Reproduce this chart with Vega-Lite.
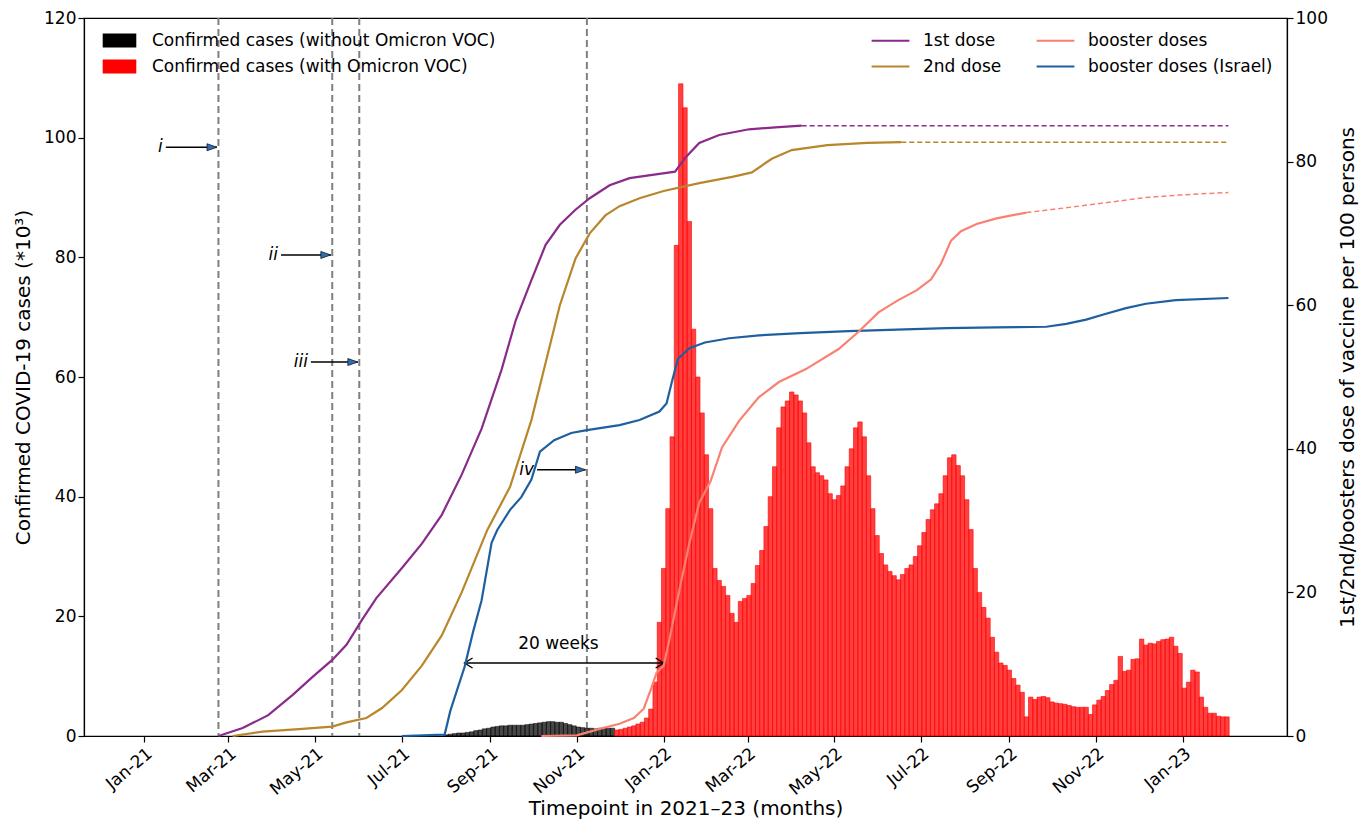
{
  "$schema": "https://vega.github.io/schema/vega-lite/v6.json",
  "width": 1203,
  "height": 718,
  "autosize": {"type": "none"},
  "padding": {"left": 84, "top": 18, "right": 82, "bottom": 86},
  "background": "white",
  "config": {
    "font": "DejaVu Sans",
    "view": {"stroke": "black", "strokeWidth": 1.2},
    "axis": {"grid": false, "domainColor": "black", "domainWidth": 1.2, "tickColor": "black", "tickSize": 6, "tickWidth": 1.2, "labelColor": "black", "labelFontSize": 17, "titleColor": "black", "titleFontSize": 20, "titleFontWeight": "normal", "labelFont": "DejaVu Sans", "titleFont": "DejaVu Sans"},
    "legend": {"labelFont": "DejaVu Sans", "labelFontSize": 17, "labelColor": "black", "labelLimit": 0, "padding": 0}
  },
  "datasets": {
    "pre": [
      {"d":"2021-08-01","c":0.2},{"d":"2021-08-04","c":0.3},{"d":"2021-08-07","c":0.4},{"d":"2021-08-10","c":0.5},{"d":"2021-08-13","c":0.5},{"d":"2021-08-16","c":0.6},{"d":"2021-08-19","c":0.7},{"d":"2021-08-22","c":0.9},{"d":"2021-08-25","c":1.0},{"d":"2021-08-28","c":1.2},{"d":"2021-08-31","c":1.3},{"d":"2021-09-03","c":1.5},{"d":"2021-09-06","c":1.6},{"d":"2021-09-09","c":1.7},{"d":"2021-09-12","c":1.7},{"d":"2021-09-15","c":1.8},{"d":"2021-09-18","c":1.8},{"d":"2021-09-21","c":1.8},{"d":"2021-09-24","c":1.8},{"d":"2021-09-27","c":1.9},{"d":"2021-09-30","c":2.0},{"d":"2021-10-03","c":2.1},{"d":"2021-10-06","c":2.2},{"d":"2021-10-09","c":2.3},{"d":"2021-10-12","c":2.4},{"d":"2021-10-15","c":2.4},{"d":"2021-10-18","c":2.3},{"d":"2021-10-21","c":2.3},{"d":"2021-10-24","c":2.1},{"d":"2021-10-27","c":1.9},{"d":"2021-10-30","c":1.7},{"d":"2021-11-02","c":1.5},{"d":"2021-11-05","c":1.4},{"d":"2021-11-08","c":1.3},{"d":"2021-11-11","c":1.3},{"d":"2021-11-14","c":1.2},{"d":"2021-11-17","c":1.3},{"d":"2021-11-20","c":1.3},{"d":"2021-11-23","c":1.3},{"d":"2021-11-26","c":1.3}
    ],
    "omi": [
      {"d":"2021-11-29","c":1.0},{"d":"2021-12-02","c":1.1},{"d":"2021-12-05","c":1.3},{"d":"2021-12-08","c":1.5},{"d":"2021-12-11","c":1.7},{"d":"2021-12-14","c":2.0},{"d":"2021-12-17","c":2.3},{"d":"2021-12-20","c":3.0},{"d":"2021-12-23","c":4.5},{"d":"2021-12-26","c":9},{"d":"2021-12-29","c":19},
      {"d":"2022-01-01","c":28},{"d":"2022-01-04","c":38},{"d":"2022-01-07","c":50},{"d":"2022-01-10","c":82},{"d":"2022-01-13","c":109},{"d":"2022-01-16","c":105},{"d":"2022-01-19","c":86},{"d":"2022-01-22","c":68},{"d":"2022-01-25","c":60},{"d":"2022-01-28","c":54},{"d":"2022-01-31","c":47},
      {"d":"2022-02-03","c":38},{"d":"2022-02-06","c":28},{"d":"2022-02-09","c":26},{"d":"2022-02-12","c":25},{"d":"2022-02-15","c":23.5},{"d":"2022-02-18","c":20.5},{"d":"2022-02-21","c":19},{"d":"2022-02-24","c":22.5},{"d":"2022-02-27","c":23},
      {"d":"2022-03-02","c":23.5},{"d":"2022-03-05","c":25.5},{"d":"2022-03-08","c":28.5},{"d":"2022-03-11","c":31},{"d":"2022-03-14","c":35},{"d":"2022-03-17","c":40},{"d":"2022-03-20","c":45},{"d":"2022-03-23","c":51.5},{"d":"2022-03-26","c":55},{"d":"2022-03-29","c":56},
      {"d":"2022-04-01","c":57.5},{"d":"2022-04-04","c":57},{"d":"2022-04-07","c":56},{"d":"2022-04-10","c":54},{"d":"2022-04-13","c":49},{"d":"2022-04-16","c":45},{"d":"2022-04-19","c":44},{"d":"2022-04-22","c":43.5},{"d":"2022-04-25","c":42.8},{"d":"2022-04-28","c":40.5},
      {"d":"2022-05-01","c":39.5},{"d":"2022-05-04","c":40.2},{"d":"2022-05-07","c":41.8},{"d":"2022-05-10","c":45},{"d":"2022-05-13","c":48},{"d":"2022-05-16","c":51.5},{"d":"2022-05-19","c":52.5},{"d":"2022-05-22","c":50},{"d":"2022-05-25","c":43.5},{"d":"2022-05-28","c":38},{"d":"2022-05-31","c":33.5},
      {"d":"2022-06-03","c":30.5},{"d":"2022-06-06","c":28.6},{"d":"2022-06-09","c":27.5},{"d":"2022-06-12","c":26.8},{"d":"2022-06-15","c":26.1},{"d":"2022-06-18","c":27},{"d":"2022-06-21","c":28},{"d":"2022-06-24","c":28.6},{"d":"2022-06-27","c":30},{"d":"2022-06-30","c":31.8},
      {"d":"2022-07-03","c":34},{"d":"2022-07-06","c":36.2},{"d":"2022-07-09","c":37.8},{"d":"2022-07-12","c":38.8},{"d":"2022-07-15","c":40.5},{"d":"2022-07-18","c":43.5},{"d":"2022-07-21","c":46.5},{"d":"2022-07-24","c":47},{"d":"2022-07-27","c":45.2},{"d":"2022-07-30","c":43.5},
      {"d":"2022-08-02","c":39.5},{"d":"2022-08-05","c":34.5},{"d":"2022-08-08","c":28},{"d":"2022-08-11","c":24},{"d":"2022-08-14","c":21.5},{"d":"2022-08-17","c":19.7},{"d":"2022-08-20","c":16.5},{"d":"2022-08-23","c":14},{"d":"2022-08-26","c":12.2},{"d":"2022-08-29","c":11.8},
      {"d":"2022-09-01","c":11},{"d":"2022-09-04","c":9.6},{"d":"2022-09-07","c":8.5},{"d":"2022-09-10","c":7.3},{"d":"2022-09-13","c":3.2},{"d":"2022-09-16","c":6.5},{"d":"2022-09-19","c":6.1},{"d":"2022-09-22","c":6.5},{"d":"2022-09-25","c":6.6},{"d":"2022-09-28","c":6.4},
      {"d":"2022-10-01","c":5.7},{"d":"2022-10-04","c":5.5},{"d":"2022-10-07","c":5.4},{"d":"2022-10-10","c":5.3},{"d":"2022-10-13","c":5.1},{"d":"2022-10-16","c":4.9},{"d":"2022-10-19","c":4.8},{"d":"2022-10-22","c":4.8},{"d":"2022-10-25","c":4.8},{"d":"2022-10-28","c":3.6},{"d":"2022-10-31","c":5.2},
      {"d":"2022-11-03","c":6},{"d":"2022-11-06","c":6.6},{"d":"2022-11-09","c":7.6},{"d":"2022-11-12","c":8.6},{"d":"2022-11-15","c":9.3},{"d":"2022-11-18","c":13.3},{"d":"2022-11-21","c":10.8},{"d":"2022-11-24","c":11},{"d":"2022-11-27","c":12.8},{"d":"2022-11-30","c":12.9},
      {"d":"2022-12-03","c":16.2},{"d":"2022-12-06","c":15.2},{"d":"2022-12-09","c":15.5},{"d":"2022-12-12","c":15.4},{"d":"2022-12-15","c":15.8},{"d":"2022-12-18","c":16.1},{"d":"2022-12-21","c":16.2},{"d":"2022-12-24","c":16.5},{"d":"2022-12-27","c":15},{"d":"2022-12-30","c":13.8},
      {"d":"2023-01-02","c":8},{"d":"2023-01-05","c":9},{"d":"2023-01-08","c":11},{"d":"2023-01-11","c":10.7},{"d":"2023-01-14","c":6.5},{"d":"2023-01-17","c":4.8},{"d":"2023-01-20","c":3.8},{"d":"2023-01-23","c":3.8},{"d":"2023-01-26","c":3.3},{"d":"2023-01-29","c":3.2},{"d":"2023-02-01","c":3.2}
    ],
    "vax": [
      {"s":"1st dose","d":"2021-02-22","v":0},{"s":"1st dose","d":"2021-03-11","v":1.1},{"s":"1st dose","d":"2021-03-29","v":2.9},{"s":"1st dose","d":"2021-04-15","v":5.7},{"s":"1st dose","d":"2021-04-29","v":8.2},{"s":"1st dose","d":"2021-05-13","v":10.6},{"s":"1st dose","d":"2021-05-23","v":12.7},{"s":"1st dose","d":"2021-06-03","v":16.2},{"s":"1st dose","d":"2021-06-13","v":19.2},{"s":"1st dose","d":"2021-07-01","v":23.4},{"s":"1st dose","d":"2021-07-15","v":26.8},{"s":"1st dose","d":"2021-07-29","v":30.8},{"s":"1st dose","d":"2021-08-12","v":36.4},{"s":"1st dose","d":"2021-08-26","v":42.8},{"s":"1st dose","d":"2021-09-09","v":51},{"s":"1st dose","d":"2021-09-19","v":57.9},{"s":"1st dose","d":"2021-09-30","v":63.5},{"s":"1st dose","d":"2021-10-10","v":68.4},{"s":"1st dose","d":"2021-10-20","v":71.2},{"s":"1st dose","d":"2021-10-31","v":73.3},{"s":"1st dose","d":"2021-11-10","v":74.9},{"s":"1st dose","d":"2021-11-24","v":76.7},{"s":"1st dose","d":"2021-12-08","v":77.7},{"s":"1st dose","d":"2021-12-29","v":78.3},{"s":"1st dose","d":"2022-01-09","v":78.6},{"s":"1st dose","d":"2022-01-16","v":80.5},{"s":"1st dose","d":"2022-01-26","v":82.6},{"s":"1st dose","d":"2022-02-09","v":83.7},{"s":"1st dose","d":"2022-03-02","v":84.5},{"s":"1st dose","d":"2022-03-23","v":84.8},{"s":"1st dose","d":"2022-04-08","v":85.0},
      {"s":"2nd dose","d":"2021-03-04","v":0},{"s":"2nd dose","d":"2021-03-25","v":0.6},{"s":"2nd dose","d":"2021-04-22","v":1.0},{"s":"2nd dose","d":"2021-05-13","v":1.3},{"s":"2nd dose","d":"2021-05-23","v":1.9},{"s":"2nd dose","d":"2021-06-06","v":2.5},{"s":"2nd dose","d":"2021-06-17","v":3.9},{"s":"2nd dose","d":"2021-07-01","v":6.4},{"s":"2nd dose","d":"2021-07-15","v":9.8},{"s":"2nd dose","d":"2021-07-29","v":14},{"s":"2nd dose","d":"2021-08-12","v":20},{"s":"2nd dose","d":"2021-08-30","v":28.7},{"s":"2nd dose","d":"2021-09-15","v":34.7},{"s":"2nd dose","d":"2021-09-30","v":44},{"s":"2nd dose","d":"2021-10-10","v":52},{"s":"2nd dose","d":"2021-10-20","v":60},{"s":"2nd dose","d":"2021-10-31","v":66.5},{"s":"2nd dose","d":"2021-11-10","v":70},{"s":"2nd dose","d":"2021-11-21","v":72.5},{"s":"2nd dose","d":"2021-12-01","v":73.8},{"s":"2nd dose","d":"2021-12-15","v":74.9},{"s":"2nd dose","d":"2022-01-01","v":75.9},{"s":"2nd dose","d":"2022-01-26","v":77},{"s":"2nd dose","d":"2022-02-19","v":77.9},{"s":"2nd dose","d":"2022-03-04","v":78.5},{"s":"2nd dose","d":"2022-03-18","v":80.4},{"s":"2nd dose","d":"2022-04-01","v":81.6},{"s":"2nd dose","d":"2022-04-26","v":82.3},{"s":"2nd dose","d":"2022-05-24","v":82.6},{"s":"2nd dose","d":"2022-06-17","v":82.7},
      {"s":"booster doses (Israel)","d":"2021-07-01","v":0},{"s":"booster doses (Israel)","d":"2021-07-31","v":0.2},{"s":"booster doses (Israel)","d":"2021-08-04","v":3.5},{"s":"booster doses (Israel)","d":"2021-08-14","v":9.6},{"s":"booster doses (Israel)","d":"2021-08-20","v":14.5},{"s":"booster doses (Israel)","d":"2021-08-26","v":18.9},{"s":"booster doses (Israel)","d":"2021-09-02","v":26.9},{"s":"booster doses (Israel)","d":"2021-09-06","v":28.7},{"s":"booster doses (Israel)","d":"2021-09-15","v":31.5},{"s":"booster doses (Israel)","d":"2021-09-23","v":33.3},{"s":"booster doses (Israel)","d":"2021-09-30","v":35.7},{"s":"booster doses (Israel)","d":"2021-10-06","v":39.6},{"s":"booster doses (Israel)","d":"2021-10-16","v":41.2},{"s":"booster doses (Israel)","d":"2021-10-28","v":42.2},{"s":"booster doses (Israel)","d":"2021-11-08","v":42.6},{"s":"booster doses (Israel)","d":"2021-12-01","v":43.3},{"s":"booster doses (Israel)","d":"2021-12-15","v":44},{"s":"booster doses (Israel)","d":"2021-12-29","v":45.2},{"s":"booster doses (Israel)","d":"2022-01-03","v":46.3},{"s":"booster doses (Israel)","d":"2022-01-07","v":49.5},{"s":"booster doses (Israel)","d":"2022-01-11","v":52.5},{"s":"booster doses (Israel)","d":"2022-01-19","v":54},{"s":"booster doses (Israel)","d":"2022-01-30","v":54.8},{"s":"booster doses (Israel)","d":"2022-02-16","v":55.4},{"s":"booster doses (Israel)","d":"2022-03-09","v":55.8},{"s":"booster doses (Israel)","d":"2022-04-07","v":56.1},{"s":"booster doses (Israel)","d":"2022-05-11","v":56.4},{"s":"booster doses (Israel)","d":"2022-06-14","v":56.6},{"s":"booster doses (Israel)","d":"2022-07-19","v":56.8},{"s":"booster doses (Israel)","d":"2022-08-23","v":56.9},{"s":"booster doses (Israel)","d":"2022-09-27","v":57.0},{"s":"booster doses (Israel)","d":"2022-10-11","v":57.4},{"s":"booster doses (Israel)","d":"2022-10-25","v":58},{"s":"booster doses (Israel)","d":"2022-11-08","v":58.8},{"s":"booster doses (Israel)","d":"2022-11-22","v":59.6},{"s":"booster doses (Israel)","d":"2022-12-06","v":60.2},{"s":"booster doses (Israel)","d":"2022-12-27","v":60.7},{"s":"booster doses (Israel)","d":"2023-02-02","v":61.0},
      {"s":"booster doses","d":"2021-10-07","v":0},{"s":"booster doses","d":"2021-11-01","v":0.1},{"s":"booster doses","d":"2021-11-17","v":1.0},{"s":"booster doses","d":"2021-12-01","v":1.7},{"s":"booster doses","d":"2021-12-11","v":2.5},{"s":"booster doses","d":"2021-12-18","v":3.8},{"s":"booster doses","d":"2021-12-23","v":6.5},{"s":"booster doses","d":"2021-12-27","v":8.8},{"s":"booster doses","d":"2022-01-01","v":9.8},{"s":"booster doses","d":"2022-01-05","v":13.4},{"s":"booster doses","d":"2022-01-12","v":20.3},{"s":"booster doses","d":"2022-01-19","v":26.8},{"s":"booster doses","d":"2022-01-26","v":32.5},{"s":"booster doses","d":"2022-02-03","v":35.5},{"s":"booster doses","d":"2022-02-11","v":40.2},{"s":"booster doses","d":"2022-02-23","v":43.9},{"s":"booster doses","d":"2022-03-09","v":47.2},{"s":"booster doses","d":"2022-03-23","v":49.3},{"s":"booster doses","d":"2022-04-11","v":51.1},{"s":"booster doses","d":"2022-05-04","v":53.9},{"s":"booster doses","d":"2022-05-18","v":56.3},{"s":"booster doses","d":"2022-06-01","v":59},{"s":"booster doses","d":"2022-06-14","v":60.6},{"s":"booster doses","d":"2022-06-28","v":62.1},{"s":"booster doses","d":"2022-07-08","v":63.6},{"s":"booster doses","d":"2022-07-15","v":65.8},{"s":"booster doses","d":"2022-07-22","v":69},{"s":"booster doses","d":"2022-07-29","v":70.3},{"s":"booster doses","d":"2022-08-09","v":71.3},{"s":"booster doses","d":"2022-08-23","v":72.1},{"s":"booster doses","d":"2022-09-13","v":72.9}
    ],
    "proj": [
      {"s":"1st dose","d":"2022-04-08","v":85.0},{"s":"1st dose","d":"2023-02-02","v":85.0},
      {"s":"2nd dose","d":"2022-06-17","v":82.7},{"s":"2nd dose","d":"2023-02-02","v":82.7},
      {"s":"booster doses","d":"2022-09-13","v":72.9},{"s":"booster doses","d":"2022-10-04","v":73.4},{"s":"booster doses","d":"2022-11-01","v":74.1},{"s":"booster doses","d":"2022-12-06","v":75.0},{"s":"booster doses","d":"2023-01-03","v":75.4},{"s":"booster doses","d":"2023-02-02","v":75.7}
    ],
    "vl": [{"d":"2021-02-22"},{"d":"2021-05-13"},{"d":"2021-06-01"},{"d":"2021-11-08"}],
    "arr": [
      {"d":"2021-01-16","d2":"2021-02-21","c":98.4,"lab":"i"},
      {"d":"2021-04-07","d2":"2021-05-12","c":80.4,"lab":"ii"},
      {"d":"2021-04-28","d2":"2021-05-31","c":62.5,"lab":"iii"},
      {"d":"2021-10-04","d2":"2021-11-07","c":44.5,"lab":"iv"}
    ],
    "heads": [{"d":"2021-02-21","c":98.4},{"d":"2021-05-12","c":80.4},{"d":"2021-05-31","c":62.5},{"d":"2021-11-07","c":44.5}],
    "wk": [{"d":"2021-08-14","d2":"2022-01-01","c":12.2}]
  },
  "encoding": {
    "x": {"field": "d", "type": "temporal", "title": "Timepoint in 2021–23 (months)",
      "scale": {"type": "utc", "domain": [{"year": 2020, "month": 11, "date": 23, "utc": true}, {"year": 2023, "month": 3, "date": 11, "hours": 16, "utc": true}]},
      "axis": {"format": "%b-%y", "labelAngle": -40, "labelAlign": "right", "labelBaseline": "top", "labelPadding": 3, "titleY": 62, "titleBaseline": "top",
        "values": [
          {"year": 2021, "month": 1, "date": 1, "utc": true}, {"year": 2021, "month": 3, "date": 1, "utc": true}, {"year": 2021, "month": 5, "date": 1, "utc": true}, {"year": 2021, "month": 7, "date": 1, "utc": true}, {"year": 2021, "month": 9, "date": 1, "utc": true}, {"year": 2021, "month": 11, "date": 1, "utc": true},
          {"year": 2022, "month": 1, "date": 1, "utc": true}, {"year": 2022, "month": 3, "date": 1, "utc": true}, {"year": 2022, "month": 5, "date": 1, "utc": true}, {"year": 2022, "month": 7, "date": 1, "utc": true}, {"year": 2022, "month": 9, "date": 1, "utc": true}, {"year": 2022, "month": 11, "date": 1, "utc": true},
          {"year": 2023, "month": 1, "date": 1, "utc": true}
        ]}}
  },
  "layer": [
    {"data": {"name": "vl"}, "mark": {"type": "rule", "color": "#808080", "strokeWidth": 2, "strokeDash": [7, 4]}},
    {
      "encoding": {"y": {"field": "c", "type": "quantitative", "title": "Confirmed COVID-19 cases (*10³)", "scale": {"domain": [0, 120], "nice": false}, "axis": {"orient": "left", "values": [0, 20, 40, 60, 80, 100, 120], "titlePadding": 10}}},
      "layer": [
        {"data": {"name": "pre"}, "mark": {"type": "bar", "width": 4.4, "fillOpacity": 0.72, "stroke": "black", "strokeWidth": 0.5},
         "encoding": {"color": {"datum": "Confirmed cases (without Omicron VOC)", "type": "nominal",
           "scale": {"domain": ["Confirmed cases (without Omicron VOC)", "Confirmed cases (with Omicron VOC)"], "range": ["black", "red"]},
           "legend": {"orient": "none", "legendX": 27, "legendY": 14, "title": null, "symbolType": "M-2.4,-1H2.4V1H-2.4Z", "symbolSize": 196, "symbolStrokeWidth": 0, "symbolOpacity": 1, "rowPadding": 8, "labelOffset": 24, "labelFontSize": 17, "labelLimit": 0}}}},
        {"data": {"name": "omi"}, "mark": {"type": "bar", "width": 4.4, "fillOpacity": 0.75, "stroke": "red", "strokeWidth": 0.6},
         "encoding": {"color": {"datum": "Confirmed cases (with Omicron VOC)", "type": "nominal"}}},
        {"data": {"name": "arr"}, "mark": {"type": "rule", "color": "black", "strokeWidth": 1.4},
         "encoding": {"x2": {"field": "d2"}}},
        {"data": {"name": "arr"}, "mark": {"type": "text", "align": "right", "baseline": "middle", "dx": -3, "fontSize": 17, "fontStyle": "italic", "color": "black"},
         "encoding": {"text": {"field": "lab"}}},
        {"data": {"name": "heads"}, "mark": {"type": "point", "shape": "M0,0L-2,-0.7L-2,0.7Z", "size": 100, "filled": true, "fill": "#2a6fb8", "stroke": "#1a1a1a", "strokeWidth": 0.8, "opacity": 1}},
        {"data": {"name": "wk"}, "mark": {"type": "rule", "color": "black", "strokeWidth": 1.4},
         "encoding": {"x2": {"field": "d2"}}},
        {"data": {"values": [{"d": "2021-08-14", "c": 12.2}]}, "mark": {"type": "point", "shape": "M1.6,-1L0,0L1.6,1", "size": 100, "filled": false, "stroke": "black", "strokeWidth": 1.4, "opacity": 1}},
        {"data": {"values": [{"d": "2022-01-01", "c": 12.2}]}, "mark": {"type": "point", "shape": "M-1.6,-1L0,0L-1.6,1", "size": 100, "filled": false, "stroke": "black", "strokeWidth": 1.4, "opacity": 1}},
        {"data": {"values": [{"d": "2021-10-19", "c": 15.4, "lab": "20 weeks"}]}, "mark": {"type": "text", "align": "center", "baseline": "middle", "fontSize": 17, "color": "black"},
         "encoding": {"text": {"field": "lab"}}}
      ]
    },
    {
      "encoding": {"y": {"field": "v", "type": "quantitative", "title": "1st/2nd/boosters dose of vaccine per 100 persons", "scale": {"domain": [0, 100], "nice": false}, "axis": {"orient": "right", "values": [0, 20, 40, 60, 80, 100], "titlePadding": 10, "titleAngle": 270, "titleBaseline": "top"}}},
      "layer": [
        {"data": {"name": "vax"}, "mark": {"type": "line", "strokeWidth": 2.2},
         "encoding": {"stroke": {"field": "s", "type": "nominal",
           "scale": {"domain": ["1st dose", "2nd dose", "booster doses", "booster doses (Israel)"], "range": ["#8a2a8a", "#b8862b", "#fa8072", "#1f5fa0"]},
           "legend": {"orient": "none", "legendX": 798, "legendY": 14, "title": null, "columns": 2, "symbolType": "M-2.7,0H2.7", "symbolSize": 196, "symbolStrokeWidth": 2.2, "rowPadding": 8, "columnPadding": 30, "labelOffset": 24, "labelFontSize": 17, "labelLimit": 0}}}},
        {"data": {"name": "proj"}, "mark": {"type": "line", "strokeWidth": 1.5, "strokeDash": [5, 3]},
         "encoding": {"stroke": {"field": "s", "type": "nominal", "scale": {"domain": ["1st dose", "2nd dose", "booster doses", "booster doses (Israel)"], "range": ["#8a2a8a", "#b8862b", "#fa8072", "#1f5fa0"]}, "legend": null}}}
      ]
    }
  ],
  "resolve": {"scale": {"y": "independent"}}
}
